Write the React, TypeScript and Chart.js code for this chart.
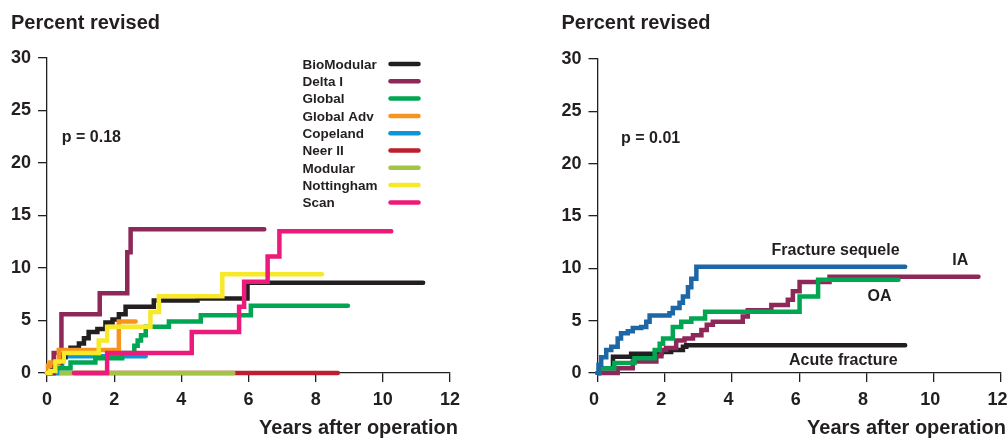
import { useEffect, useRef } from "react";
import { Chart, registerables } from "chart.js";

Chart.register(...registerables);

const FONT = '"Liberation Sans", Arial, Helvetica, sans-serif';
const INK = "#231f20";

// ---------- shared texts / ticks ----------
const yAxisTitle = "Percent revised";
const xAxisTitle = "Years after operation";
const xTicksMax = 12;
const xTickStep = 2;
const yTicksMax = 30;
const yTickStep = 5;

// ---------- left panel: prosthesis brands ----------
const leftPValue = "p = 0.18";
const brandNames = ["BioModular", "Delta I", "Global", "Global Adv", "Copeland", "Neer II", "Modular", "Nottingham", "Scan"];
const brandColors = ["#231f20", "#8e2859", "#00a651", "#f7941d", "#0a96d8", "#be1e2d", "#a3c444", "#f7e82a", "#ec1a7a"];
const brandLayer = [3, 4, 5, 2, 6, 8, 7, 1, 0];

const bioModular = [[0, 0], [0.1, 0.5], [0.25, 1.0], [0.4, 1.5], [0.55, 2.0], [0.7, 2.4], [0.95, 2.8], [1.1, 3.3], [1.24, 3.9], [1.5, 4.2], [1.74, 4.8], [1.95, 5.1], [2.14, 5.6], [2.34, 6.3], [3.18, 6.9], [4.48, 7.1], [5.97, 8.6], [11.2, 8.6]];
const deltaI = [[0, 0], [0.2, 1.9], [0.43, 5.6], [1.57, 7.6], [2.39, 11.5], [2.49, 13.7], [6.47, 13.7]];
const globalStd = [[0, 0], [0.2, 0.45], [0.7, 1.0], [1.44, 1.4], [2.24, 1.9], [2.6, 2.6], [2.7, 3.1], [2.8, 3.6], [2.94, 4.4], [3.63, 4.9], [4.58, 5.5], [6.07, 6.4], [8.96, 6.4]];
const globalAdv = [[0, 0], [0.03, 0.7], [0.1, 1.0], [0.35, 2.2], [2.14, 4.9], [2.64, 4.9]];
const copeland = [[0, 0], [0.3, 0.5], [0.45, 1.6], [2.94, 1.6]];
const neerII = [[0, 0], [8.66, 0]];
const modular = [[0, 0], [5.55, 0]];
const nottingham = [[0, 0], [0.1, 0.2], [0.25, 1.1], [0.5, 1.9], [1.54, 3.1], [1.79, 4.4], [3.08, 5.8], [3.33, 7.3], [5.22, 9.4], [8.19, 9.4]];
const scan = [[0.8, 0], [1.79, 1.9], [4.31, 3.9], [5.72, 6.3], [5.87, 8.7], [6.57, 11.1], [6.92, 13.5], [10.25, 13.5]];
const brandSeries = [bioModular, deltaI, globalStd, globalAdv, copeland, neerII, modular, nottingham, scan];

// ---------- right panel: diagnosis ----------
const rightPValue = "p = 0.01";
const diagNames = ["Fracture sequele", "IA", "OA", "Acute fracture"];
const diagColors = ["#1d67a6", "#8e2859", "#00a651", "#231f20"];
const diagLayer = [0, 2, 1, 3];
// label anchor points (years, percent)
const diagLabelX = [7.08, 10.79, 8.39, 7.31];
const diagLabelY = [11.68, 10.73, 7.29, 1.17];

const fractureSequele = [[0, 0], [0.03, 0.8], [0.11, 1.5], [0.26, 2.2], [0.41, 2.5], [0.6, 3.3], [0.7, 3.8], [0.9, 4.0], [1.05, 4.3], [1.3, 4.4], [1.45, 4.9], [1.55, 5.5], [2.14, 5.7], [2.24, 6.2], [2.44, 6.7], [2.54, 7.3], [2.69, 8.2], [2.79, 9.0], [2.94, 10.15], [9.15, 10.15]];
const ia = [[0, 0], [0.5, 0], [0.6, 0.45], [1.05, 1.1], [1.75, 1.6], [1.9, 2.2], [2.04, 2.4], [2.34, 3.1], [2.59, 3.3], [2.84, 3.6], [3.09, 4.1], [3.25, 4.6], [3.43, 4.9], [4.32, 5.4], [4.47, 6.0], [5.17, 6.5], [5.66, 7.0], [5.81, 7.8], [6.01, 8.7], [6.9, 9.2], [11.33, 9.2]];
const oa = [[0, 0], [0.05, 0.45], [0.5, 0.95], [1.1, 1.4], [1.7, 2.2], [1.85, 2.8], [1.95, 3.3], [2.24, 4.4], [2.49, 4.9], [2.79, 5.2], [3.2, 5.85], [6.01, 7.3], [6.56, 8.9], [8.95, 8.9]];
const acuteFracture = [[0, 0], [0.05, 0.45], [0.46, 1.55], [1.0, 1.85], [1.9, 2.0], [2.19, 2.2], [2.54, 2.5], [2.64, 2.65], [9.15, 2.65]];
const diagSeries = [fractureSequele, ia, oa, acuteFracture];

// ---------- helpers ----------
function buildDatasets(names: string[], series: number[][][], colors: string[], layers: number[]) {
  return names.map((name, i) => ({
    label: name,
    data: series[i].map(([x, y]) => ({ x, y })),
    borderColor: colors[i],
    backgroundColor: colors[i],
    borderWidth: 4.5,
    borderCapStyle: "round" as const,
    borderJoinStyle: "miter" as const,
    stepped: true,
    pointRadius: 0,
    fill: false,
    clip: false as const,
    order: layers[i],
  }));
}

function scalesConfig(yWidth: number, xHeight: number, xLabelOffset: number) {
  const grid = { display: true, drawOnChartArea: false, drawTicks: true, tickLength: 9, color: INK, lineWidth: 1.3 };
  const border = { display: true, color: INK, width: 1.3 };
  return {
    x: {
      type: "linear" as const,
      min: 0,
      max: xTicksMax,
      grid,
      border,
      ticks: { stepSize: xTickStep, color: INK, padding: 7, labelOffset: xLabelOffset, font: { family: FONT, size: 18, weight: "bold" as const } },
      afterFit: (s: any) => { s.height = xHeight; },
    },
    y: {
      type: "linear" as const,
      min: 0,
      max: yTicksMax,
      grid,
      border,
      ticks: { stepSize: yTickStep, color: INK, padding: 7, font: { family: FONT, size: 18, weight: "bold" as const } },
      afterFit: (s: any) => { s.width = yWidth; },
    },
  };
}

const leftTextPlugin = {
  id: "leftText",
  afterDraw(chart: any) {
    const { ctx, chartArea, scales } = chart;
    const x = scales.x, y = scales.y;
    ctx.save();
    ctx.fillStyle = INK;
    ctx.font = `bold 20px ${FONT}`;
    ctx.textAlign = "left";
    ctx.textBaseline = "alphabetic";
    ctx.fillText(yAxisTitle, 11, 29);
    ctx.textAlign = "right";
    ctx.fillText(xAxisTitle, chartArea.right + 8, 434);
    ctx.font = `bold 16px ${FONT}`;
    ctx.textAlign = "left";
    ctx.textBaseline = "middle";
    ctx.fillText(leftPValue, x.getPixelForValue(0.44), y.getPixelForValue(22.4));
    // legend
    ctx.font = `bold 13.5px ${FONT}`;
    brandNames.forEach((name, i) => {
      const rowY = 64 + 17.3 * i;
      ctx.fillStyle = INK;
      ctx.fillText(name, chartArea.left + 255.5, rowY + 1);
      ctx.strokeStyle = brandColors[i];
      ctx.lineWidth = 4.5;
      ctx.lineCap = "round";
      ctx.beginPath();
      ctx.moveTo(chartArea.left + 343.5, rowY);
      ctx.lineTo(chartArea.left + 371.5, rowY);
      ctx.stroke();
    });
    ctx.restore();
  },
};

const rightTextPlugin = {
  id: "rightText",
  afterDraw(chart: any) {
    const { ctx, chartArea, scales } = chart;
    const x = scales.x, y = scales.y;
    ctx.save();
    ctx.fillStyle = INK;
    ctx.font = `bold 20px ${FONT}`;
    ctx.textAlign = "left";
    ctx.textBaseline = "alphabetic";
    ctx.fillText(yAxisTitle, 57.5, 29);
    ctx.textAlign = "right";
    ctx.fillText(xAxisTitle, chartArea.right + 5, 434);
    ctx.font = `bold 16px ${FONT}`;
    ctx.textAlign = "left";
    ctx.textBaseline = "middle";
    ctx.fillText(rightPValue, x.getPixelForValue(0.7), y.getPixelForValue(22.4));
    ctx.textAlign = "center";
    diagNames.forEach((name, i) => {
      ctx.fillText(name, x.getPixelForValue(diagLabelX[i]), y.getPixelForValue(diagLabelY[i]));
    });
    ctx.restore();
  },
};

export default function App() {
  const leftRef = useRef<HTMLCanvasElement>(null);
  const rightRef = useRef<HTMLCanvasElement>(null);

  useEffect(() => {
    const common = {
      responsive: false,
      maintainAspectRatio: false,
      animation: false as const,
      events: [] as any[],
      plugins: { legend: { display: false }, tooltip: { enabled: false }, title: { display: false } },
    };
    const left = new Chart(leftRef.current as HTMLCanvasElement, {
      type: "line",
      data: { datasets: buildDatasets(brandNames, brandSeries, brandColors, brandLayer) as any },
      options: {
        ...common,
        layout: { padding: { left: 0, top: 58, right: 54, bottom: 0 } },
        scales: scalesConfig(47, 65, 0) as any,
      },
      plugins: [leftTextPlugin],
    });
    const right = new Chart(rightRef.current as HTMLCanvasElement, {
      type: "line",
      data: { datasets: buildDatasets(diagNames, diagSeries, diagColors, diagLayer) as any },
      options: {
        ...common,
        layout: { padding: { left: 0, top: 59, right: 23, bottom: 0 } },
        scales: scalesConfig(93.5, 65, -3.5) as any,
      },
      plugins: [rightTextPlugin],
    });
    return () => {
      left.destroy();
      right.destroy();
    };
  }, []);

  return (
    <div style={{ position: "fixed", left: 0, top: 0, width: 1008, height: 438, overflow: "hidden", background: "#fff" }}>
      <canvas ref={leftRef} width={504} height={438} style={{ position: "absolute", left: 0, top: 0, width: 504, height: 438 }} />
      <canvas ref={rightRef} width={520} height={438} style={{ position: "absolute", left: 504, top: 0, width: 520, height: 438 }} />
    </div>
  );
}
